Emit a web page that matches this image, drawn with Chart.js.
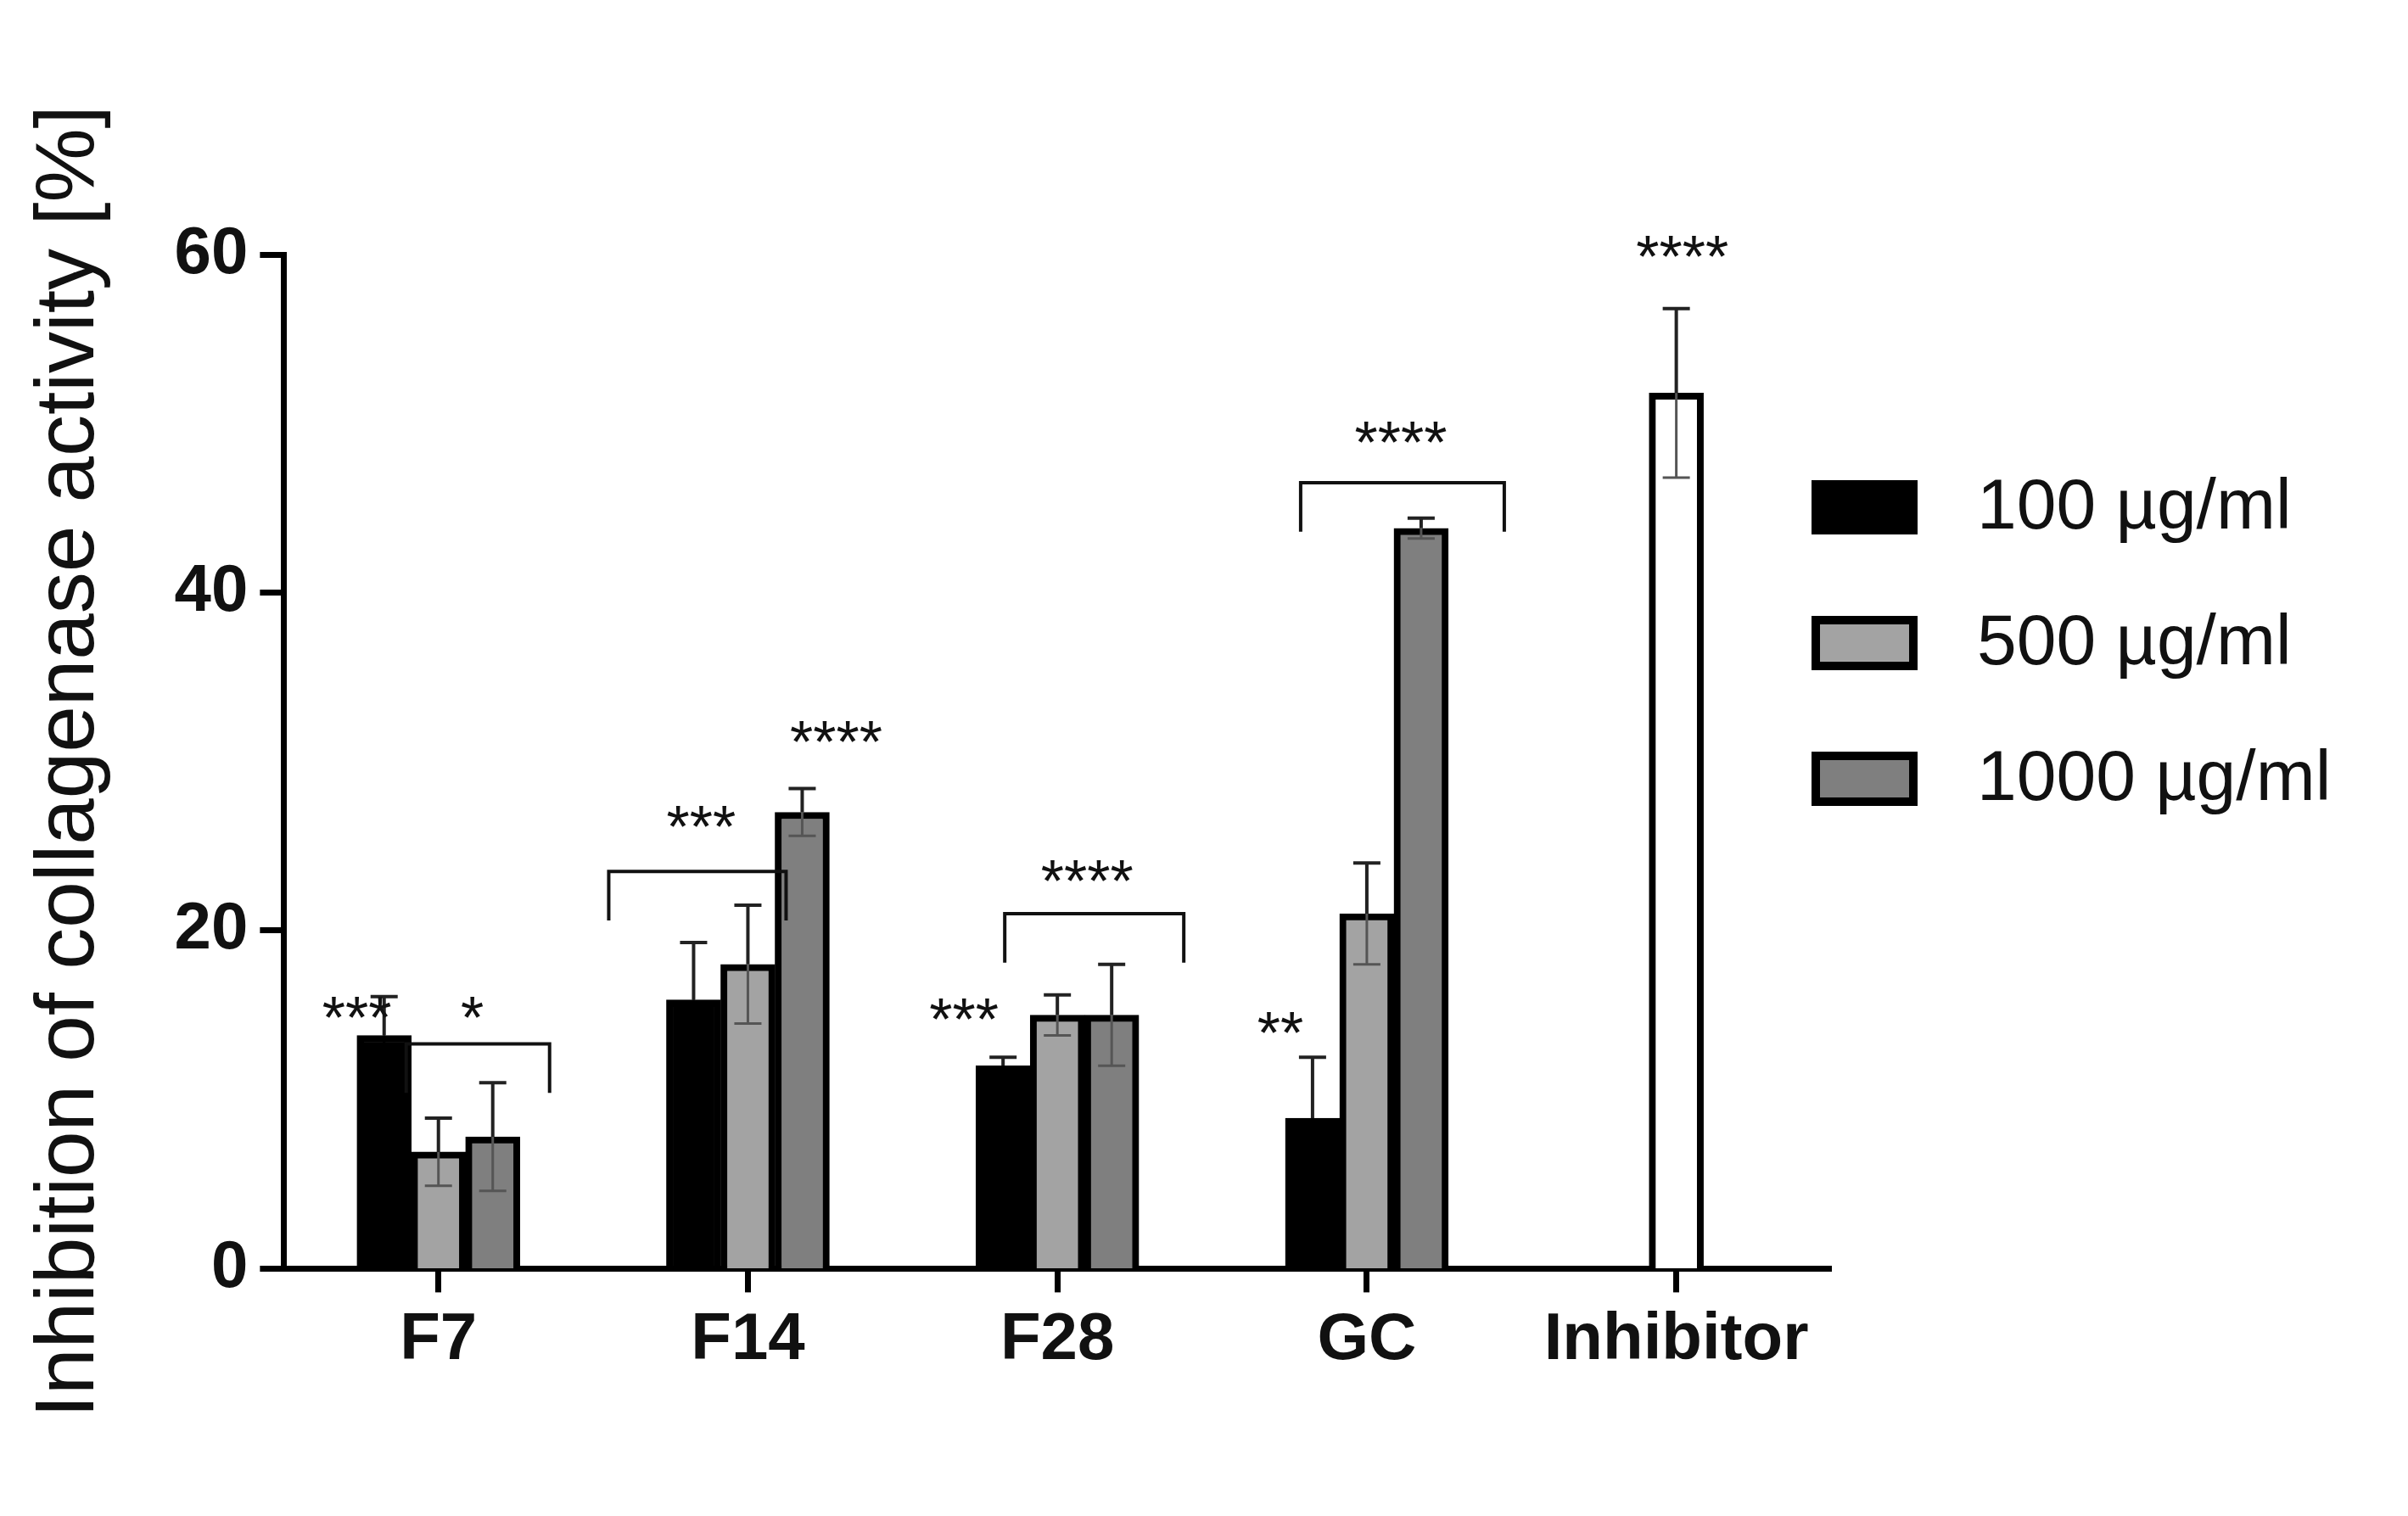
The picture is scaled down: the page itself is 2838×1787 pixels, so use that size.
<!DOCTYPE html>
<html><head><meta charset="utf-8">
<script src="https://cdn.jsdelivr.net/npm/chart.js@4/dist/chart.umd.min.js"></script>
<style>html,body{margin:0;background:#fff}#w{width:2838px;height:1787px}</style>
</head><body><div id="w"><canvas id="c"></canvas></div>
<script>
const categories = ['F7','F14','F28','GC','Inhibitor'];
const seriesNames = ['100 µg/ml','500 µg/ml','1000 µg/ml','Inhibitor'];
const v100 = [13.8, 15.9, 12.0, 8.9, null];
const v500 = [6.9, 18.0, 15.0, 21.0, null];
const v1000 = [7.8, 27.0, 15.0, 43.8, null];
const vInh = [null, null, null, null, 51.8];
const e100 = [2.3, 3.4, 0.5, 3.6, null];
const e500 = [2.0, 3.5, 1.2, 3.0, null];
const e1000 = [3.2, 1.4, 3.0, 0.6, null];
const eInh = [null, null, null, null, 5.0];
const yTicks = [0, 20, 40, 60];
// [category, text, xOffset(bar spacings), y value]
const starLabels = [[0,'***',-0.96,15.6],[0,'*',0.4,15.6],[1,'***',-0.55,26.9],[1,'****',1.04,31.9],
  [2,'***',-1.1,15.5],[2,'****',0.35,23.7],[3,'**',-1.02,14.7],[3,'****',0.4,49.6],[4,'****',0.07,60.6]];
// [category, startOffset, endOffset, y value]
const brackets = [[0,-0.38,1.31,13.3],[1,-1.64,0.45,23.5],[2,-0.62,1.49,21.0],[3,-0.78,1.62,46.5]];

const fills = ['#000000','#a3a3a3','#7f7f7f','#ffffff'];
const errs = [e100,e500,e1000,eInh];
const vals = [v100,v500,v1000,vInh];

const overlay = {
  id:'overlay',
  afterDatasetsDraw(chart){
    const ctx = chart.ctx, y = chart.scales.y, x = chart.scales.x;
    ctx.save();
    vals.forEach((arr,di)=>{
      const meta = chart.getDatasetMeta(di);
      arr.forEach((v,i)=>{
        if(v==null) return;
        const el = meta.data[i], e = errs[di][i];
        const cx = el.x, top = y.getPixelForValue(v+e), vt = y.getPixelForValue(v), bot = y.getPixelForValue(v-e);
        const hw = 16;
        ctx.strokeStyle = '#222'; ctx.lineWidth = 4;
        ctx.beginPath(); ctx.moveTo(cx,vt); ctx.lineTo(cx,top); ctx.moveTo(cx-hw,top); ctx.lineTo(cx+hw,top); ctx.stroke();
        ctx.strokeStyle = di===0 ? '#000' : '#555'; ctx.lineWidth = 3;
        ctx.beginPath(); ctx.moveTo(cx,vt); ctx.lineTo(cx,bot); ctx.moveTo(cx-hw,bot); ctx.lineTo(cx+hw,bot); ctx.stroke();
      });
    });
    const spacing = 100;
    ctx.strokeStyle='#111'; ctx.lineWidth=4;
    brackets.forEach(([c,s,e,v])=>{
      const cx = x.getPixelForValue(c), py = y.getPixelForValue(v), d = y.getPixelForValue(v-2.9)-py;
      ctx.beginPath(); ctx.moveTo(cx+s*spacing,py+d); ctx.lineTo(cx+s*spacing,py); ctx.lineTo(cx+e*spacing,py); ctx.lineTo(cx+e*spacing,py+d); ctx.stroke();
    });
    ctx.fillStyle='#111'; ctx.font='70px "Liberation Sans", Arial'; ctx.textAlign='center'; ctx.textBaseline='middle';
    starLabels.forEach(([c,t,o,v])=>{
      ctx.fillText(t, x.getPixelForValue(c)+o*spacing, y.getPixelForValue(v)+20);
    });
    const lx = 2135, ly = [598, 758, 918];
    ctx.font='84px "Liberation Sans", Arial'; ctx.textAlign='left';
    for(let i=0;i<3;i++){
      ctx.fillStyle='#000'; ctx.fillRect(lx,ly[i]-32,125,64);
      if(i>0){ ctx.fillStyle=fills[i]; ctx.fillRect(lx+10,ly[i]-22,105,44); }
      ctx.fillStyle='#111'; ctx.fillText(seriesNames[i], lx+195, ly[i]+2);
    }
    ctx.restore();
  }
};

const mk = (i)=>({label:seriesNames[i], data:vals[i], backgroundColor:fills[i], borderColor:'#000', borderWidth:8, borderSkipped:'bottom', barThickness:64, skipNull:true, categoryPercentage:0.84, barPercentage:1});
new Chart(document.getElementById('c'),{
  type:'bar',
  data:{labels:categories, datasets:[mk(0),mk(1),mk(2),mk(3)]},
  options:{
    responsive:true, maintainAspectRatio:false, animation:false,
    layout:{padding:{left:20,top:300,right:680,bottom:150}},
    plugins:{legend:{display:false},tooltip:{enabled:false}},
    scales:{
      x:{grid:{display:true,offset:false,drawOnChartArea:false,drawTicks:true,tickLength:28,tickWidth:7,tickColor:'#000'},
         border:{color:'#000',width:7},
         ticks:{color:'#111',font:{family:'"Liberation Sans", Arial',size:78,weight:'bold'},padding:10}},
      y:{min:0,max:60,afterBuildTicks(s){s.ticks=yTicks.map(v=>({value:v}));},
         grid:{display:true,drawOnChartArea:false,tickLength:28,tickWidth:7,tickColor:'#000'},
         border:{color:'#000',width:7},
         ticks:{color:'#111',font:{family:'"Liberation Sans", Arial',size:78,weight:'bold'},padding:14},
         title:{display:true,text:'Inhibition of collagenase activity [%]',color:'#111',font:{family:'"Liberation Sans", Arial',size:98},padding:{bottom:50}}}
    }
  },
  plugins:[overlay]
});
</script></body></html>
